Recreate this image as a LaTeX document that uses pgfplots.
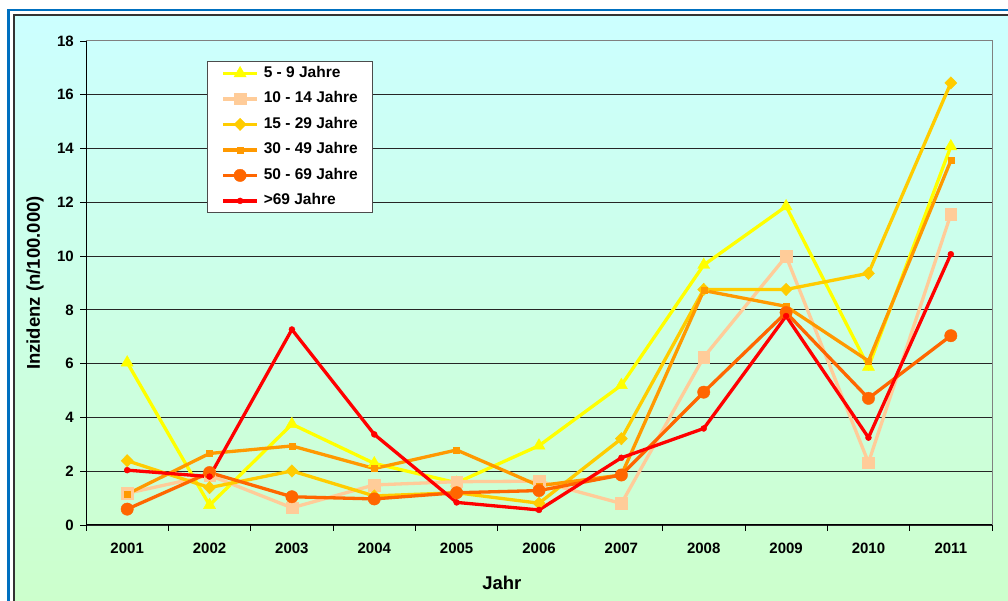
\documentclass[border=0pt]{standalone}
\usepackage{pgfplots}
\pgfplotsset{compat=1.18}
\usepackage{fontspec}
\setmainfont{Liberation Sans}

\definecolor{cA}{RGB}{255,255,0}
\definecolor{cB}{RGB}{255,204,153}
\definecolor{cC}{RGB}{255,204,0}
\definecolor{cD}{RGB}{255,153,0}
\definecolor{cE}{RGB}{255,102,0}
\definecolor{cF}{RGB}{255,0,0}
\definecolor{frameblue}{RGB}{0,112,192}
\definecolor{bgtop}{RGB}{204,255,255}
\definecolor{bgbot}{RGB}{204,255,204}

\begin{document}
\begin{tikzpicture}[x=1pt,y=1pt]
\useasboundingbox (0,0) rectangle (1008,601);
\fill[white] (0,0) rectangle (1008,601);
\begin{scope}
  \clip (0,0) rectangle (1008,601);
  \shade[top color=bgtop, bottom color=bgbot] (14,0) rectangle (1008,586);
  \draw[frameblue, line width=2.5pt] (8.7,-20) -- (8.7,591) -- (1030,591);
  \draw[black!80, line width=1.3pt] (14,-20) -- (14,586) -- (1030,586);
\end{scope}

\begin{axis}[
  at={(86pt,76pt)}, anchor=south west,
  scale only axis, width=906pt, height=484pt,
  xmin=0, xmax=11, ymin=0, ymax=18,
  xtick={0.5,1.5,...,10.5},
  xticklabels={2001,2002,2003,2004,2005,2006,2007,2008,2009,2010,2011},
  minor xtick={0,1,...,11},
  ytick={0,2,...,16},
  extra y ticks={18},
  extra y tick style={grid=none},
  xtick pos=bottom, ytick pos=left,
  tick align=outside,
  major tick length=6pt, minor tick length=6pt,
  major x tick style={draw=none},
  tick style={black, line width=0.8pt},
  ymajorgrids,
  major grid style={black!85, line width=0.8pt},
  axis line style={draw=gray, line width=1pt},
  /pgf/number format/assume math mode=true,
  ticklabel style={font=\fontsize{15}{18}\selectfont\bfseries},
  yticklabel style={anchor=east, inner sep=0pt, xshift=-6pt},
  xticklabel style={anchor=north, inner sep=0pt, yshift=-12pt},
  xlabel={Jahr},
  ylabel={Inzidenz (n/100.000)},
  xlabel style={at={(axis description cs:0.459,-0.1198)}, anchor=center,
    font=\fontsize{18.5}{22}\selectfont\bfseries},
  ylabel style={at={(axis description cs:-0.0563,0.5)}, anchor=center,
    font=\fontsize{18.5}{22}\selectfont\bfseries},
  legend image code/.code={\draw[mark repeat=2,mark phase=2,#1]
    plot coordinates {(0pt,0pt)(17pt,0pt)(34pt,0pt)};},
  legend style={at={(0.1336,0.9587)}, anchor=north west,
    draw=black!70, line width=0.8pt, fill=white,
    font=\fontsize{15.5}{18}\selectfont\bfseries,
    row sep=9.5pt, inner xsep=14pt, inner ysep=4pt,
    nodes={inner sep=1pt, text height=11pt, text depth=3pt},
    /tikz/every odd column/.append style={column sep=4pt}},
  legend cell align=left,
  every axis plot/.append style={line width=3.3pt},
]
\addplot[cA, mark=triangle*, mark size=7pt, mark options={line width=0.4pt}] coordinates {
  (0.5,6.04) (1.5,0.74) (2.5,3.75) (3.5,2.29) (4.5,1.57) (5.5,2.95)
  (6.5,5.20) (7.5,9.67) (8.5,11.85) (9.5,5.88) (10.5,14.08)};
\addlegendentry{5 - 9 Jahre}
\addplot[cB, mark=square*, mark size=5.8pt, mark options={line width=0.4pt}] coordinates {
  (0.5,1.18) (1.5,1.85) (2.5,0.64) (3.5,1.49) (4.5,1.61) (5.5,1.63)
  (6.5,0.80) (7.5,6.24) (8.5,9.99) (9.5,2.32) (10.5,11.55)};
\addlegendentry{10 - 14 Jahre}
\addplot[cC, mark=diamond*, mark size=6.2pt, mark options={line width=0.4pt, xscale=1.3}] coordinates {
  (0.5,2.39) (1.5,1.39) (2.5,2.01) (3.5,1.08) (4.5,1.20) (5.5,0.81)
  (6.5,3.21) (7.5,8.76) (8.5,8.76) (9.5,9.36) (10.5,16.44)};
\addlegendentry{15 - 29 Jahre}
\addplot[cD, mark=square*, mark size=3pt, mark options={line width=0.4pt}] coordinates {
  (0.5,1.15) (1.5,2.66) (2.5,2.94) (3.5,2.10) (4.5,2.79) (5.5,1.46)
  (6.5,1.86) (7.5,8.72) (8.5,8.13) (9.5,6.10) (10.5,13.55)};
\addlegendentry{30 - 49 Jahre}
\addplot[cE, mark=*, mark size=6.2pt, mark options={line width=0.4pt}] coordinates {
  (0.5,0.59) (1.5,1.95) (2.5,1.05) (3.5,0.97) (4.5,1.20) (5.5,1.28)
  (6.5,1.86) (7.5,4.94) (8.5,7.90) (9.5,4.71) (10.5,7.04)};
\addlegendentry{50 - 69 Jahre}
\addplot[cF, mark=*, mark size=3pt, mark options={line width=0.4pt}] coordinates {
  (0.5,2.04) (1.5,1.80) (2.5,7.27) (3.5,3.37) (4.5,0.84) (5.5,0.56)
  (6.5,2.50) (7.5,3.59) (8.5,7.77) (9.5,3.25) (10.5,10.07)};
\addlegendentry{>69 Jahre}
\draw[black, line width=1pt] (rel axis cs:0,1) -- (rel axis cs:0,0) -- (rel axis cs:1,0);
\end{axis}
\end{tikzpicture}
\end{document}
